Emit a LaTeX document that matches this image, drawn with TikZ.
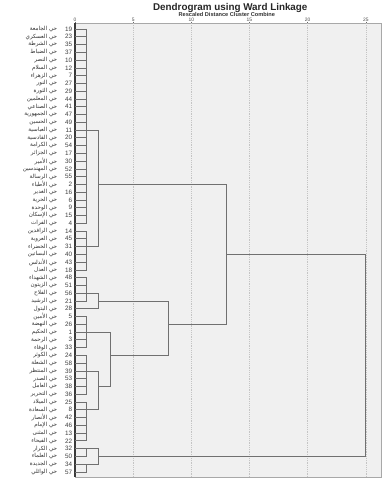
\documentclass[tikz,border=0pt]{standalone}
\usepackage{fontspec}
\setmainfont{Liberation Sans}
\newfontfamily\arabicfont[Script=Arabic]{DejaVu Sans}
\TeXXeTstate=1
\newcommand{\placename}[1]{{\arabicfont\beginR #1\endR}}
\definecolor{plotbg}{HTML}{F0F0F0}
\definecolor{framec}{HTML}{A8A8A8}
\definecolor{gridc}{HTML}{C4C4C4}
\definecolor{linkc}{HTML}{707070}
\definecolor{axisdark}{HTML}{3A3A3A}
\tikzset{
  link/.style={draw=linkc,line width=0.9pt},
  gridrule/.style={draw=gridc,line width=0.6pt,dotted},
  casenum/.style={anchor=east,inner sep=1pt,text=black!75,font=\fontsize{9}{10}\selectfont},
  casename/.style={anchor=east,inner sep=1pt,text=black!80,font=\fontsize{8}{9}\selectfont},
  ticklabel/.style={anchor=base,inner sep=0pt,text=black!70,font=\fontsize{7}{8}\selectfont},
}

\begin{document}
\begin{tikzpicture}[x=5.815mm,y=-3.885mm]
\path[fill=white] (-6.449,-3.732) rectangle (27.171,58.044);
\useasboundingbox (-6.449,-3.732) rectangle (27.171,58.044);
\node[font=\bfseries\fontsize{14}{16}\selectfont,text=black!85] (chart-title) at (13.35,-2.76) {Dendrogram using Ward Linkage};
\node[font=\bfseries\fontsize{8}{9}\selectfont,text=black!80,inner sep=0pt] (chart-subtitle) at (13.05,-1.86) {Rescaled Distance Cluster Combine};
\path[fill=plotbg,draw=framec,line width=0.7pt] (0,-0.772) rectangle (26.31,57.66);
\foreach \d in {5,10,...,25}
  \path[gridrule] (\d,-0.772) -- (\d,57.66);
\foreach \d in {0,5,...,25}{
  \node[ticklabel] (tick-\d) at (\d,-1.02) {\d};
  \path[draw=black!60,line width=0.6pt] (\d,-0.95) -- (\d,-0.772);
}
\path[draw=axisdark,line width=2pt] (0,-0.772) -- (0,57.66);
% cases
\coordinate (leaf-0) at (0,0); \node[casenum] (case-0) at (-0.17,0) {19}; \node[casename] (name-0) at (-1.46,0) {\placename{حي الجامعة}};
\coordinate (leaf-1) at (0,1); \node[casenum] (case-1) at (-0.17,1) {23}; \node[casename] (name-1) at (-1.46,1) {\placename{حي العسكري}};
\coordinate (leaf-2) at (0,2); \node[casenum] (case-2) at (-0.17,2) {35}; \node[casename] (name-2) at (-1.46,2) {\placename{حي الشرطة}};
\coordinate (leaf-3) at (0,3); \node[casenum] (case-3) at (-0.17,3) {37}; \node[casename] (name-3) at (-1.46,3) {\placename{حي الضباط}};
\coordinate (leaf-4) at (0,4); \node[casenum] (case-4) at (-0.17,4) {10}; \node[casename] (name-4) at (-1.46,4) {\placename{حي النصر}};
\coordinate (leaf-5) at (0,5); \node[casenum] (case-5) at (-0.17,5) {12}; \node[casename] (name-5) at (-1.46,5) {\placename{حي السلام}};
\coordinate (leaf-6) at (0,6); \node[casenum] (case-6) at (-0.17,6) {7}; \node[casename] (name-6) at (-1.46,6) {\placename{حي الزهراء}};
\coordinate (leaf-7) at (0,7); \node[casenum] (case-7) at (-0.17,7) {27}; \node[casename] (name-7) at (-1.46,7) {\placename{حي النور}};
\coordinate (leaf-8) at (0,8); \node[casenum] (case-8) at (-0.17,8) {29}; \node[casename] (name-8) at (-1.46,8) {\placename{حي الثورة}};
\coordinate (leaf-9) at (0,9); \node[casenum] (case-9) at (-0.17,9) {44}; \node[casename] (name-9) at (-1.46,9) {\placename{حي المعلمين}};
\coordinate (leaf-10) at (0,10); \node[casenum] (case-10) at (-0.17,10) {41}; \node[casename] (name-10) at (-1.46,10) {\placename{حي الصناعي}};
\coordinate (leaf-11) at (0,11); \node[casenum] (case-11) at (-0.17,11) {47}; \node[casename] (name-11) at (-1.46,11) {\placename{حي الجمهورية}};
\coordinate (leaf-12) at (0,12); \node[casenum] (case-12) at (-0.17,12) {49}; \node[casename] (name-12) at (-1.46,12) {\placename{حي الحسين}};
\coordinate (leaf-13) at (0,13); \node[casenum] (case-13) at (-0.17,13) {11}; \node[casename] (name-13) at (-1.46,13) {\placename{حي العباسية}};
\coordinate (leaf-14) at (0,14); \node[casenum] (case-14) at (-0.17,14) {20}; \node[casename] (name-14) at (-1.46,14) {\placename{حي القادسية}};
\coordinate (leaf-15) at (0,15); \node[casenum] (case-15) at (-0.17,15) {54}; \node[casename] (name-15) at (-1.46,15) {\placename{حي الكرامة}};
\coordinate (leaf-16) at (0,16); \node[casenum] (case-16) at (-0.17,16) {17}; \node[casename] (name-16) at (-1.46,16) {\placename{حي الجزائر}};
\coordinate (leaf-17) at (0,17); \node[casenum] (case-17) at (-0.17,17) {30}; \node[casename] (name-17) at (-1.46,17) {\placename{حي الأمير}};
\coordinate (leaf-18) at (0,18); \node[casenum] (case-18) at (-0.17,18) {52}; \node[casename] (name-18) at (-1.46,18) {\placename{حي المهندسين}};
\coordinate (leaf-19) at (0,19); \node[casenum] (case-19) at (-0.17,19) {55}; \node[casename] (name-19) at (-1.46,19) {\placename{حي الرسالة}};
\coordinate (leaf-20) at (0,20); \node[casenum] (case-20) at (-0.17,20) {2}; \node[casename] (name-20) at (-1.46,20) {\placename{حي الأطباء}};
\coordinate (leaf-21) at (0,21); \node[casenum] (case-21) at (-0.17,21) {16}; \node[casename] (name-21) at (-1.46,21) {\placename{حي الغدير}};
\coordinate (leaf-22) at (0,22); \node[casenum] (case-22) at (-0.17,22) {6}; \node[casename] (name-22) at (-1.46,22) {\placename{حي الحرية}};
\coordinate (leaf-23) at (0,23); \node[casenum] (case-23) at (-0.17,23) {9}; \node[casename] (name-23) at (-1.46,23) {\placename{حي الوحدة}};
\coordinate (leaf-24) at (0,24); \node[casenum] (case-24) at (-0.17,24) {15}; \node[casename] (name-24) at (-1.46,24) {\placename{حي الإسكان}};
\coordinate (leaf-25) at (0,25); \node[casenum] (case-25) at (-0.17,25) {4}; \node[casename] (name-25) at (-1.46,25) {\placename{حي الفرات}};
\coordinate (leaf-26) at (0,26); \node[casenum] (case-26) at (-0.17,26) {14}; \node[casename] (name-26) at (-1.46,26) {\placename{حي الرافدين}};
\coordinate (leaf-27) at (0,27); \node[casenum] (case-27) at (-0.17,27) {45}; \node[casename] (name-27) at (-1.46,27) {\placename{حي العروبة}};
\coordinate (leaf-28) at (0,28); \node[casenum] (case-28) at (-0.17,28) {31}; \node[casename] (name-28) at (-1.46,28) {\placename{حي الخضراء}};
\coordinate (leaf-29) at (0,29); \node[casenum] (case-29) at (-0.17,29) {40}; \node[casename] (name-29) at (-1.46,29) {\placename{حي البساتين}};
\coordinate (leaf-30) at (0,30); \node[casenum] (case-30) at (-0.17,30) {43}; \node[casename] (name-30) at (-1.46,30) {\placename{حي الأندلس}};
\coordinate (leaf-31) at (0,31); \node[casenum] (case-31) at (-0.17,31) {18}; \node[casename] (name-31) at (-1.46,31) {\placename{حي العدل}};
\coordinate (leaf-32) at (0,32); \node[casenum] (case-32) at (-0.17,32) {48}; \node[casename] (name-32) at (-1.46,32) {\placename{حي الشهداء}};
\coordinate (leaf-33) at (0,33); \node[casenum] (case-33) at (-0.17,33) {51}; \node[casename] (name-33) at (-1.46,33) {\placename{حي الزيتون}};
\coordinate (leaf-34) at (0,34); \node[casenum] (case-34) at (-0.17,34) {56}; \node[casename] (name-34) at (-1.46,34) {\placename{حي الفلاح}};
\coordinate (leaf-35) at (0,35); \node[casenum] (case-35) at (-0.17,35) {21}; \node[casename] (name-35) at (-1.46,35) {\placename{حي الرشيد}};
\coordinate (leaf-36) at (0,36); \node[casenum] (case-36) at (-0.17,36) {28}; \node[casename] (name-36) at (-1.46,36) {\placename{حي البتول}};
\coordinate (leaf-37) at (0,37); \node[casenum] (case-37) at (-0.17,37) {5}; \node[casename] (name-37) at (-1.46,37) {\placename{حي الأمين}};
\coordinate (leaf-38) at (0,38); \node[casenum] (case-38) at (-0.17,38) {26}; \node[casename] (name-38) at (-1.46,38) {\placename{حي النهضة}};
\coordinate (leaf-39) at (0,39); \node[casenum] (case-39) at (-0.17,39) {1}; \node[casename] (name-39) at (-1.46,39) {\placename{حي الحكيم}};
\coordinate (leaf-40) at (0,40); \node[casenum] (case-40) at (-0.17,40) {3}; \node[casename] (name-40) at (-1.46,40) {\placename{حي الرحمة}};
\coordinate (leaf-41) at (0,41); \node[casenum] (case-41) at (-0.17,41) {33}; \node[casename] (name-41) at (-1.46,41) {\placename{حي الوفاء}};
\coordinate (leaf-42) at (0,42); \node[casenum] (case-42) at (-0.17,42) {24}; \node[casename] (name-42) at (-1.46,42) {\placename{حي الكوثر}};
\coordinate (leaf-43) at (0,43); \node[casenum] (case-43) at (-0.17,43) {58}; \node[casename] (name-43) at (-1.46,43) {\placename{حي الشعلة}};
\coordinate (leaf-44) at (0,44); \node[casenum] (case-44) at (-0.17,44) {39}; \node[casename] (name-44) at (-1.46,44) {\placename{حي المنتظر}};
\coordinate (leaf-45) at (0,45); \node[casenum] (case-45) at (-0.17,45) {53}; \node[casename] (name-45) at (-1.46,45) {\placename{حي الصدر}};
\coordinate (leaf-46) at (0,46); \node[casenum] (case-46) at (-0.17,46) {38}; \node[casename] (name-46) at (-1.46,46) {\placename{حي العامل}};
\coordinate (leaf-47) at (0,47); \node[casenum] (case-47) at (-0.17,47) {36}; \node[casename] (name-47) at (-1.46,47) {\placename{حي التحرير}};
\coordinate (leaf-48) at (0,48); \node[casenum] (case-48) at (-0.17,48) {25}; \node[casename] (name-48) at (-1.46,48) {\placename{حي الميلاد}};
\coordinate (leaf-49) at (0,49); \node[casenum] (case-49) at (-0.17,49) {8}; \node[casename] (name-49) at (-1.46,49) {\placename{حي السعادة}};
\coordinate (leaf-50) at (0,50); \node[casenum] (case-50) at (-0.17,50) {42}; \node[casename] (name-50) at (-1.46,50) {\placename{حي الأنصار}};
\coordinate (leaf-51) at (0,51); \node[casenum] (case-51) at (-0.17,51) {46}; \node[casename] (name-51) at (-1.46,51) {\placename{حي الإمام}};
\coordinate (leaf-52) at (0,52); \node[casenum] (case-52) at (-0.17,52) {13}; \node[casename] (name-52) at (-1.46,52) {\placename{حي المثنى}};
\coordinate (leaf-53) at (0,53); \node[casenum] (case-53) at (-0.17,53) {22}; \node[casename] (name-53) at (-1.46,53) {\placename{حي الفيحاء}};
\coordinate (leaf-54) at (0,54); \node[casenum] (case-54) at (-0.17,54) {32}; \node[casename] (name-54) at (-1.46,54) {\placename{حي الكرار}};
\coordinate (leaf-55) at (0,55); \node[casenum] (case-55) at (-0.17,55) {50}; \node[casename] (name-55) at (-1.46,55) {\placename{حي العلماء}};
\coordinate (leaf-56) at (0,56); \node[casenum] (case-56) at (-0.17,56) {34}; \node[casename] (name-56) at (-1.46,56) {\placename{حي الجديدة}};
\coordinate (leaf-57) at (0,57); \node[casenum] (case-57) at (-0.17,57) {57}; \node[casename] (name-57) at (-1.46,57) {\placename{حي الوائلي}};
% merge points
\coordinate (clu-a1) at (1,13);
\coordinate (clu-a2) at (1,28);
\coordinate (clu-a) at (2,20);
\coordinate (clu-b1) at (1,34);
\coordinate (clu-b) at (2,35);
\coordinate (clu-c1) at (1,39);
\coordinate (clu-c2a) at (1,44);
\coordinate (clu-c2b) at (1,49);
\coordinate (clu-c2) at (2,46);
\coordinate (clu-c) at (3,42);
\coordinate (clu-bc) at (8,38);
\coordinate (clu-abc) at (13,29);
\coordinate (clu-d1) at (1,54);
\coordinate (clu-d2) at (1,56);
\coordinate (clu-d) at (2,55);
\coordinate (clu-root) at (25,42);
\foreach \i in {0,...,35,37,38,...,57}
  \path[link] (leaf-\i) -- ++(1,0);
\path[link] (leaf-0 -| clu-a1) -- (leaf-25 -| clu-a1);
\path[link] (leaf-26 -| clu-a2) -- (leaf-31 -| clu-a2);
\path[link] (leaf-32 -| clu-b1) -- (leaf-35 -| clu-b1);
\path[link] (leaf-37 -| clu-c1) -- (leaf-41 -| clu-c1);
\path[link] (leaf-42 -| clu-c2a) -- (leaf-47 -| clu-c2a);
\path[link] (leaf-48 -| clu-c2b) -- (leaf-53 -| clu-c2b);
\path[link] (leaf-54 -| clu-d1) -- (leaf-55 -| clu-d1);
\path[link] (leaf-56 -| clu-d2) -- (leaf-57 -| clu-d2);
\path[link] (clu-a1) -| (clu-a) |- (clu-a2);
\path[link] (clu-b1) -| (clu-b) |- (leaf-36);
\path[link] (clu-c2a) -| (clu-c2) |- (clu-c2b);
\path[link] (clu-c1) -| (clu-c) |- (clu-c2);
\path[link] (clu-b) -| (clu-bc) |- (clu-c);
\path[link] (clu-a) -| (clu-abc) |- (clu-bc);
\path[link] (clu-d1) -| (clu-d) |- (clu-d2);
\path[link] (clu-abc) -| (clu-root) |- (clu-d);
\end{tikzpicture}
\end{document}
